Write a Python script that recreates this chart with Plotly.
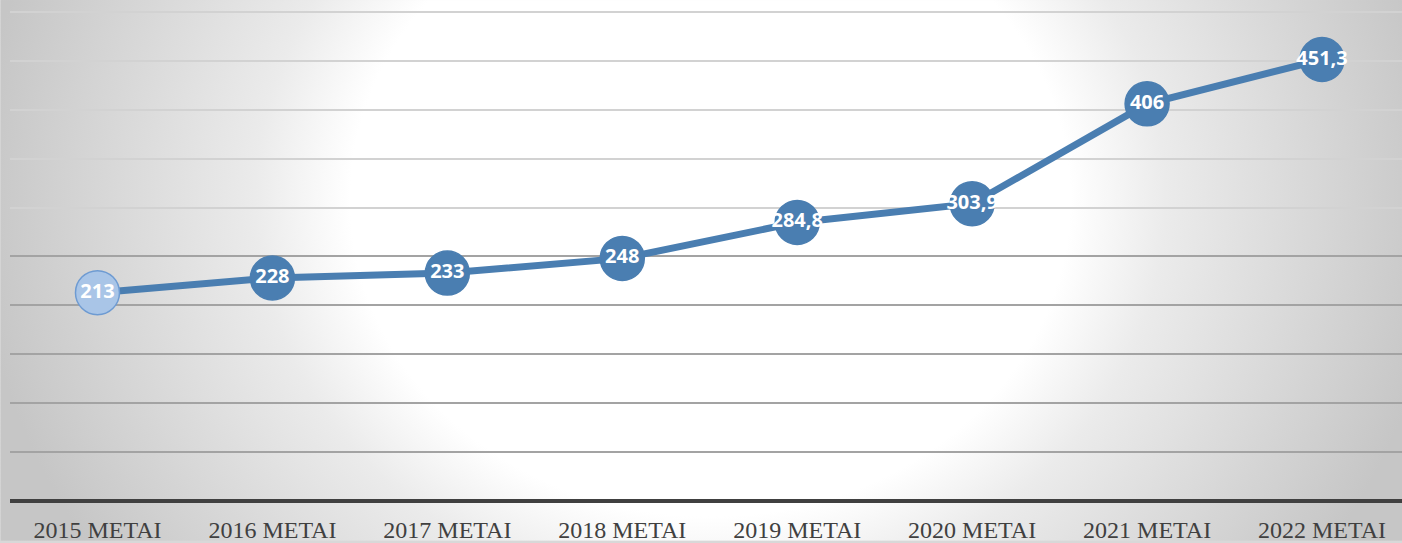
import base64
import plotly.graph_objects as go

categories = ["2015 METAI", "2016 METAI", "2017 METAI", "2018 METAI",
              "2019 METAI", "2020 METAI", "2021 METAI", "2022 METAI"]
values = [213, 228, 233, 248, 284.8, 303.9, 406, 451.3]
upper_grid = [300, 350, 400, 450, 500]
lower_grid = [50, 100, 150, 200, 250]


def fmt(v):
    return str(int(v)) if float(v).is_integer() else str(v).replace(".", ",")


labels = [fmt(v) for v in values]
marker_colors = ["#a9c5e7" if i == 0 else "#4a7eb1" for i in range(len(values))]
marker_lines = ["#6e9bd2" if i == 0 else "#4a7eb1" for i in range(len(values))]

W, H = 1402, 543
svg = f'''<svg xmlns="http://www.w3.org/2000/svg" width="{W}" height="{H}" viewBox="0 0 {W} {H}" preserveAspectRatio="none">
<defs>
<radialGradient id="g" gradientUnits="userSpaceOnUse" cx="0" cy="0" r="1"
 gradientTransform="translate(710 200) scale(735 650)">
<stop offset="0" stop-color="#ffffff"/>
<stop offset="0.49" stop-color="#ffffff"/>
<stop offset="0.62" stop-color="#ebebeb"/>
<stop offset="1" stop-color="#c6c6c6"/>
</radialGradient>
</defs>
<rect x="0" y="0" width="{W}" height="{H}" fill="url(#g)"/>
</svg>'''
bg_uri = "data:image/svg+xml;base64," + base64.b64encode(svg.encode()).decode()

ml, mr, mt, mb = 9.5, 0, 7, 40
pw = W - ml - mr
ph = H - mt - mb

fig = go.Figure()
fig.add_trace(go.Scatter(
    x=categories, y=values, mode="lines+markers+text",
    line=dict(color="#4a7eb1", width=7),
    marker=dict(size=44, color=marker_colors, line=dict(color=marker_lines, width=1.5)),
    text=labels, textposition="middle center",
    textfont=dict(family="Open Sans", size=20, color="white", weight="bold"),
    cliponaxis=False, hoverinfo="skip",
))

fig.update_layout(
    width=W, height=H,
    margin=dict(l=ml, r=mr, t=mt, b=mb, pad=0),
    paper_bgcolor="#d8d8d8",
    plot_bgcolor="rgba(0,0,0,0)",
    showlegend=False,
    images=[dict(
        source=bg_uri, xref="paper", yref="paper",
        x=-ml / pw, y=1 + mt / ph, sizex=W / pw, sizey=H / ph,
        xanchor="left", yanchor="top", sizing="stretch", layer="below",
    )],
    xaxis=dict(
        range=[-0.5, -0.5 + pw / 175.0],
        showgrid=False, zeroline=False,
        showline=False, ticks="",
        tickfont=dict(family="Liberation Serif", size=24, color="#404040"),
        ticklabelstandoff=12,
    ),
    yaxis=dict(
        range=[0, 505], tickvals=upper_grid,
        showgrid=True, gridcolor="#d2d2d2", gridwidth=1.5,
        showticklabels=False, ticks="",
        zeroline=True, zerolinecolor="#404040", zerolinewidth=3.5,
        showline=False,
    ),
    yaxis2=dict(
        range=[0, 505], tickvals=lower_grid, overlaying="y",
        showgrid=True, gridcolor="#a3a3a3", gridwidth=1.5,
        showticklabels=False, ticks="", zeroline=False, showline=False,
    ),
)
# invisible helper so the second grid axis is drawn
fig.add_trace(go.Scatter(x=[categories[0]], y=[None], yaxis="y2",
                         mode="markers", showlegend=False, hoverinfo="skip"))

fig.write_html("out.html", config={"displayModeBar": False},
               post_script="document.body.style.margin='0';")
